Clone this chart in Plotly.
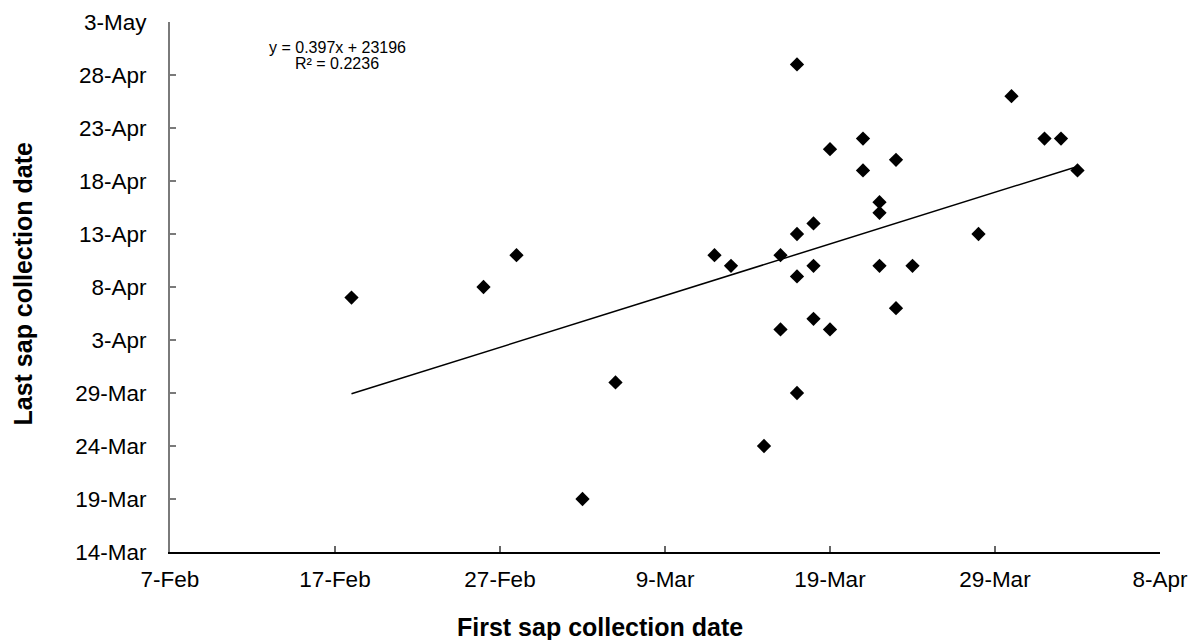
import numpy as np
import pandas as pd
import plotly.graph_objects as go

# ---- data (year assumed 2005) ----
first_sap = [
    "2005-02-18", "2005-02-26", "2005-02-28", "2005-03-04", "2005-03-06",
    "2005-03-12", "2005-03-13", "2005-03-15", "2005-03-16", "2005-03-16",
    "2005-03-17", "2005-03-17", "2005-03-17", "2005-03-17", "2005-03-18",
    "2005-03-18", "2005-03-18", "2005-03-19", "2005-03-19", "2005-03-21",
    "2005-03-21", "2005-03-22", "2005-03-22", "2005-03-22", "2005-03-23",
    "2005-03-23", "2005-03-24", "2005-03-28", "2005-03-30", "2005-04-01",
    "2005-04-02", "2005-04-03",
]
last_sap = [
    "2005-04-07", "2005-04-08", "2005-04-11", "2005-03-19", "2005-03-30",
    "2005-04-11", "2005-04-10", "2005-03-24", "2005-04-11", "2005-04-04",
    "2005-04-29", "2005-04-13", "2005-04-09", "2005-03-29", "2005-04-14",
    "2005-04-10", "2005-04-05", "2005-04-21", "2005-04-04", "2005-04-22",
    "2005-04-19", "2005-04-16", "2005-04-15", "2005-04-10", "2005-04-20",
    "2005-04-06", "2005-04-10", "2005-04-13", "2005-04-26", "2005-04-22",
    "2005-04-22", "2005-04-19",
]
x_ticks = ["2005-02-07", "2005-02-17", "2005-02-27", "2005-03-09", "2005-03-19",
           "2005-03-29", "2005-04-08"]
y_ticks = ["2005-03-14", "2005-03-19", "2005-03-24", "2005-03-29", "2005-04-03",
           "2005-04-08", "2005-04-13", "2005-04-18", "2005-04-23", "2005-04-28",
           "2005-05-03"]
equation_text = "y = 0.397x + 23196"
r2_text = "R² = 0.2236"
x_title = "First sap collection date"
y_title = "Last sap collection date"

# ---- linear trendline fitted from the data ----
xd = pd.to_datetime(first_sap)
yd = pd.to_datetime(last_sap)
base = pd.Timestamp("2005-01-01")
xn = np.array((xd - base).days, dtype=float)
yn = np.array((yd - base).days, dtype=float)
slope, intercept = np.polyfit(xn, yn, 1)
x_line = np.array([xn.min(), xn.max()])
y_line = slope * x_line + intercept
x_line_d = [base + pd.Timedelta(days=float(v)) for v in x_line]
y_line_d = [base + pd.Timedelta(days=float(v)) for v in y_line]

FONT = "Liberation Sans, Arial, sans-serif"

fig = go.Figure()
fig.add_trace(go.Scatter(
    x=x_line_d, y=y_line_d, mode="lines",
    line=dict(color="black", width=1.5), showlegend=False, hoverinfo="skip",
))
fig.add_trace(go.Scatter(
    x=xd, y=yd, mode="markers",
    marker=dict(symbol="diamond", size=11, color="black", line=dict(width=0)),
    showlegend=False,
))

fig.update_layout(
    width=1194, height=640,
    margin=dict(l=170, r=34, t=22, b=88, autoexpand=False),
    paper_bgcolor="white", plot_bgcolor="white",
    font=dict(family=FONT, color="black"),
    xaxis=dict(
        type="date", automargin=False,
        range=[x_ticks[0], x_ticks[-1]],
        tickvals=x_ticks, tickformat="%-d-%b",
        showgrid=False, zeroline=False,
        showline=True, linecolor="black", linewidth=1.5,
        ticks="inside", ticklen=6, tickcolor="#666666", tickwidth=1.5,
        tickfont=dict(size=22.5, family=FONT, color="black"),
        ticklabelstandoff=6,
    ),
    yaxis=dict(
        type="date", automargin=False,
        range=[y_ticks[0], y_ticks[-1]],
        tickvals=y_ticks, tickformat="%-d-%b",
        showgrid=False, zeroline=False,
        showline=True, linecolor="#7a7a7a", linewidth=2,
        ticks="inside", ticklen=6, tickcolor="#7a7a7a", tickwidth=1.5,
        tickfont=dict(size=22.5, family=FONT, color="black"),
        ticklabelstandoff=17,
    ),
    annotations=[
        dict(text=f"<b>{x_title}</b>", xref="paper", yref="paper",
             x=0.4347, y=-0.1415, xanchor="center", yanchor="middle",
             showarrow=False, font=dict(size=25, family=FONT, color="black")),
        dict(text=f"<b>{y_title}</b>", xref="paper", yref="paper",
             x=-0.148, y=0.5075, xanchor="center", yanchor="middle",
             textangle=-90, showarrow=False,
             font=dict(size=25, family=FONT, color="black")),
        dict(text=equation_text, xref="paper", yref="paper",
             x=0.169, y=0.9528, xanchor="center", yanchor="middle",
             showarrow=False, font=dict(size=16, family=FONT, color="black")),
        dict(text=r2_text, xref="paper", yref="paper",
             x=0.169, y=0.9208, xanchor="center", yanchor="middle",
             showarrow=False, font=dict(size=16, family=FONT, color="black")),
    ],
)

fig.write_html(
    "out.html",
    config={"displayModeBar": False},
    post_script="document.body.style.margin='0';document.body.style.overflow='hidden';",
)
